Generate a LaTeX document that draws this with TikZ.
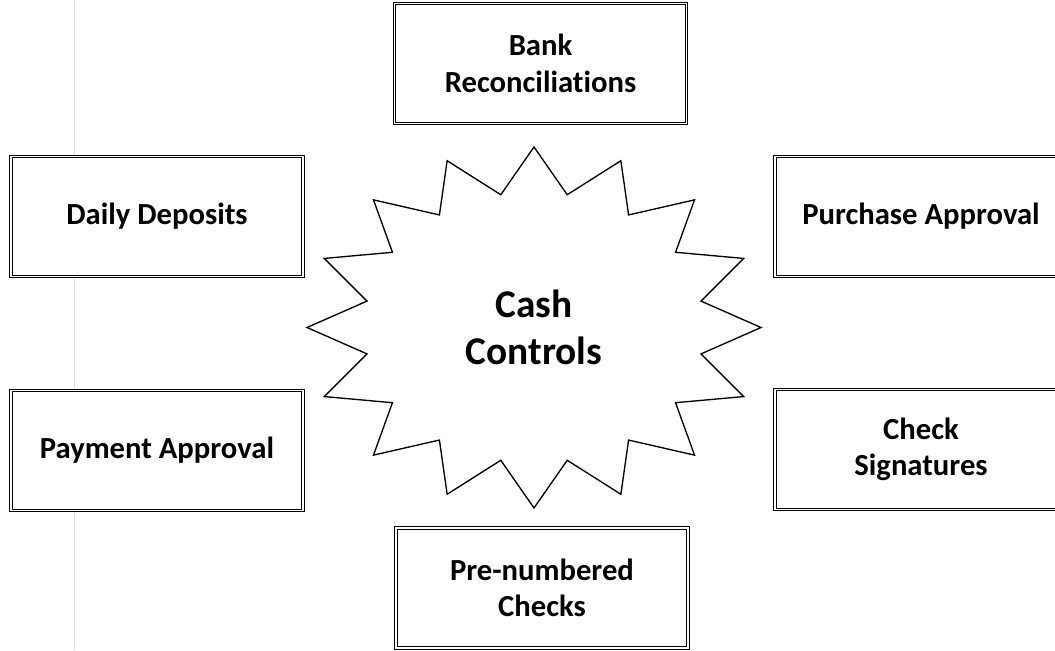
\documentclass[tikz,border=0pt]{standalone}
\usepackage{fontspec}
\setmainfont{Carlito}[Ligatures=NoCommon]
\usetikzlibrary{positioning}
\tikzset{
  ctrlbox/.style  = {draw=black, fill=white, line width=0.9pt, double=white,
                     double distance=1pt, minimum width=219pt, minimum height=90pt,
                     align=center, inner sep=2pt,
                     font=\fontsize{23}{27.5}\selectfont\bfseries},
  starline/.style = {draw=black, fill=white, line width=1pt, line join=miter},
  hublbl/.style   = {align=center, font=\fontsize{29.5}{35}\selectfont\bfseries},
  marginline/.style = {gray!25, line width=0.75pt},
}

\begin{document}
\begin{tikzpicture}[x=0.75pt,y=0.75pt]
  \clip (0,0) rectangle (1055,650);
  % faint page margin
  \coordinate (mtop) at (74.5,650);
  \coordinate (mbot) at (74.5,0);
  \draw[marginline] (mtop) -- (mbot);
  % central star
  \coordinate (hub) at (534,322.5);
  \draw[starline, shift={(hub)}] (90:227 and 180.5)
    \foreach \k [evaluate=\k as \r using {1-0.25*mod(\k,2)}] in {1,...,31}
      { -- ({90+11.25*\k}:{227*\r} and {180.5*\r}) } -- cycle;
  \node[hublbl] (cash) at (hub) {Cash\\Controls};
  % surrounding controls
  \node[ctrlbox] (bank)       at (540.5,586.5) {Bank\\Reconciliations};
  \node[ctrlbox] (daily)      at (157,433.5)   {Daily Deposits};
  \node[ctrlbox] (purchase)   at (921,433.5)   {Purchase Approval};
  \node[ctrlbox] (payment)    at (157,199.5)   {Payment Approval};
  \node[ctrlbox] (signatures) at (921,200.5)   {Check\\Signatures};
  \node[ctrlbox] (prenum)     at (542,62)      {Pre-numbered\\Checks};
\end{tikzpicture}
\end{document}
